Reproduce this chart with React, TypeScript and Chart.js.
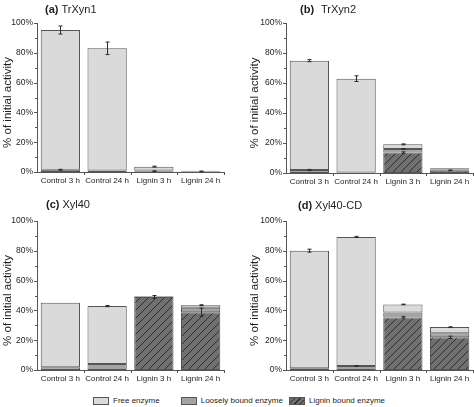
import React, { useEffect, useRef } from 'react';
import { Chart, registerables } from 'chart.js';

Chart.register(...registerables);

const categories = ['Control 3 h', 'Control 24 h', 'Lignin 3 h', 'Lignin 24 h'];
const yTickValues = [0, 20, 40, 60, 80, 100];
const legendLabels = ['Free enzyme', 'Loosely bound enzyme', 'Lignin bound enzyme'];

// (a) TrXyn1
const trxyn1Lignin = [0, 0, 0.5, 0.4];
const trxyn1Loose = [1.5, 1.0, 0.5, 0.4];
const trxyn1Free = [93.8, 82.0, 2.6, 0];
const trxyn1LigninErr = [0, 0, 0.3, 0.2];
const trxyn1LooseErr = [0.3, 0, 0, 0];
const trxyn1FreeErr = [2.7, 4.2, 0.3, 0];

// (b) TrXyn2
const trxyn2Lignin = [0, 0, 13.6, 1.8];
const trxyn2Loose = [2.0, 0.3, 2.4, 0.6];
const trxyn2Free = [72.9, 62.6, 3.1, 0.7];
const trxyn2LigninErr = [0, 0, 0.5, 0.2];
const trxyn2LooseErr = [0.4, 0, 0.3, 0];
const trxyn2FreeErr = [0.7, 1.9, 0.3, 0];

// (c) Xyl40
const xyl40Lignin = [0, 0, 49.0, 38.8];
const xyl40Loose = [1.8, 4.0, 0.3, 3.0];
const xyl40Free = [43.3, 38.9, 0.3, 1.7];
const xyl40LigninErr = [0, 0, 1.0, 2.7];
const xyl40LooseErr = [0, 0, 0, 0];
const xyl40FreeErr = [0, 0.4, 0, 0.3];

// (d) Xyl40-CD
const xyl40cdLignin = [0, 0, 35.3, 21.9];
const xyl40cdLoose = [1.1, 2.7, 3.3, 2.7];
const xyl40cdFree = [79.0, 86.6, 5.4, 4.2];
const xyl40cdLigninErr = [0, 0, 0.5, 0.8];
const xyl40cdLooseErr = [0, 0.2, 0, 0];
const xyl40cdFreeErr = [1.0, 0.4, 0.2, 0.2];

const FONT = '"Liberation Sans", Arial, sans-serif';
const FREE_COLOR = '#dadada';
const LOOSE_COLOR = '#a3a3a3';
const LIGNIN_BASE = '#707070';
const HATCH_COLOR = '#2e2e2e';
const EDGE = '#555555';
const TEXT = '#1e1e1e';

type PanelCfg = {
  letter: string;
  name: string;
  lignin: number[];
  loose: number[];
  free: number[];
  ligninErr: number[];
  looseErr: number[];
  freeErr: number[];
  x: number; y: number; w: number; h: number;
  area: { l: number; t: number; r: number; b: number };
  yTitleX: number;
  titleLeft: number; titleTop: number; titleGap: number;
};

const panels: PanelCfg[] = [
  {
    letter: '(a)', name: 'TrXyn1',
    lignin: trxyn1Lignin, loose: trxyn1Loose, free: trxyn1Free,
    ligninErr: trxyn1LigninErr, looseErr: trxyn1LooseErr, freeErr: trxyn1FreeErr,
    x: 0, y: 0, w: 237, h: 190,
    area: { l: 37, t: 23, r: 224, b: 172 },
    yTitleX: 8, titleLeft: 45, titleTop: 3, titleGap: 3,
  },
  {
    letter: '(b)', name: 'TrXyn2',
    lignin: trxyn2Lignin, loose: trxyn2Loose, free: trxyn2Free,
    ligninErr: trxyn2LigninErr, looseErr: trxyn2LooseErr, freeErr: trxyn2FreeErr,
    x: 237, y: 0, w: 237, h: 190,
    area: { l: 286, t: 23, r: 473, b: 173 },
    yTitleX: 255, titleLeft: 300, titleTop: 3, titleGap: 7,
  },
  {
    letter: '(c)', name: 'Xyl40',
    lignin: xyl40Lignin, loose: xyl40Loose, free: xyl40Free,
    ligninErr: xyl40LigninErr, looseErr: xyl40LooseErr, freeErr: xyl40FreeErr,
    x: 0, y: 190, w: 237, h: 195,
    area: { l: 37, t: 221, r: 224, b: 370 },
    yTitleX: 8, titleLeft: 46, titleTop: 198, titleGap: 3,
  },
  {
    letter: '(d)', name: 'Xyl40-CD',
    lignin: xyl40cdLignin, loose: xyl40cdLoose, free: xyl40cdFree,
    ligninErr: xyl40cdLigninErr, looseErr: xyl40cdLooseErr, freeErr: xyl40cdFreeErr,
    x: 237, y: 190, w: 237, h: 195,
    area: { l: 286, t: 221, r: 473, b: 370 },
    yTitleX: 255, titleLeft: 298, titleTop: 199, titleGap: 3,
  },
];

function makeHatch(): CanvasPattern | string {
  const c = document.createElement('canvas');
  c.width = 8; c.height = 8;
  const g = c.getContext('2d');
  if (!g) return LIGNIN_BASE;
  g.fillStyle = LIGNIN_BASE;
  g.fillRect(0, 0, 8, 8);
  g.strokeStyle = HATCH_COLOR;
  g.lineWidth = 1;
  g.beginPath();
  g.moveTo(-1, 9); g.lineTo(9, -1);
  g.moveTo(-1, 1); g.lineTo(1, -1);
  g.moveTo(7, 9); g.lineTo(9, 7);
  g.stroke();
  const p = g.createPattern(c, 'repeat');
  return p || LIGNIN_BASE;
}

const decorPlugin = {
  id: 'decor',
  afterDatasetsDraw(chart: any, _args: any, opts: any) {
    const ctx = chart.ctx as CanvasRenderingContext2D;
    const ys = chart.scales.y;
    const area = chart.chartArea;
    ctx.save();
    // error bars
    ctx.strokeStyle = '#2a2a2a';
    ctx.lineWidth = 1;
    const errs: number[][] = opts.errs || [];
    const n = chart.data.labels.length;
    for (let j = 0; j < n; j++) {
      let cum = 0;
      chart.data.datasets.forEach((ds: any, i: number) => {
        const v = ds.data[j] || 0;
        cum += v;
        const e = errs[i] ? errs[i][j] : 0;
        const el = chart.getDatasetMeta(i).data[j];
        if (!e || !el) return;
        const px = Math.round(el.x) + 0.5;
        const yU = ys.getPixelForValue(cum + e);
        const yD = ys.getPixelForValue(Math.max(0, cum - e));
        ctx.beginPath();
        ctx.moveTo(px, yU); ctx.lineTo(px, yD);
        ctx.moveTo(px - 2, yU); ctx.lineTo(px + 2, yU);
        ctx.moveTo(px - 2, yD); ctx.lineTo(px + 2, yD);
        ctx.stroke();
      });
    }
    ctx.restore();
  },
  afterDraw(chart: any, _args: any, opts: any) {
    const ctx = chart.ctx as CanvasRenderingContext2D;
    const ys = chart.scales.y;
    const area = chart.chartArea;
    ctx.save();
    ctx.strokeStyle = EDGE;
    ctx.lineWidth = 1;
    // y ticks (major and minor)
    for (let v = 0; v <= 100; v += 10) {
      const py = Math.round(ys.getPixelForValue(v)) + 0.5;
      const len = v % 20 === 0 ? 3 : 2;
      ctx.beginPath();
      ctx.moveTo(area.left - len, py);
      ctx.lineTo(area.left, py);
      ctx.stroke();
    }
    // x ticks at category boundaries
    const n = chart.data.labels.length;
    const step = (area.right - area.left) / n;
    for (let i = 1; i <= n; i++) {
      const px = Math.round(area.left + i * step) + 0.5;
      ctx.beginPath();
      ctx.moveTo(px, area.bottom);
      ctx.lineTo(px, area.bottom + 3);
      ctx.stroke();
    }
    // y-axis title
    ctx.fillStyle = TEXT;
    ctx.font = `11.5px ${FONT}`;
    ctx.textAlign = 'center';
    ctx.textBaseline = 'middle';
    ctx.translate(opts.titleX, (area.top + area.bottom) / 2 + 5);
    ctx.rotate(-Math.PI / 2);
    ctx.fillText(opts.title, 0, 0);
    ctx.restore();
  },
};

function nz(arr: number[]) {
  return arr.map((v) => (v > 0 ? v : null));
}

function Panel({ cfg }: { cfg: PanelCfg }) {
  const ref = useRef<HTMLCanvasElement>(null);
  useEffect(() => {
    if (!ref.current) return;
    const hatch = makeHatch();
    const a = cfg.area;
    const left = a.l - cfg.x;
    const top = a.t - cfg.y;
    const right = cfg.w - (a.r - cfg.x);
    const bottomH = cfg.h - (a.b - cfg.y);
    const common = { borderColor: EDGE, borderWidth: 1, borderSkipped: false, barPercentage: 0.84, categoryPercentage: 1.0 };
    const chart = new Chart(ref.current, {
      type: 'bar',
      data: {
        labels: categories,
        datasets: [
          { label: legendLabels[2], data: nz(cfg.lignin), backgroundColor: hatch, ...common },
          { label: legendLabels[1], data: nz(cfg.loose), backgroundColor: LOOSE_COLOR, ...common },
          { label: legendLabels[0], data: nz(cfg.free), backgroundColor: FREE_COLOR, ...common },
        ] as any,
      },
      options: {
        responsive: false,
        animation: false,
        devicePixelRatio: 1,
        layout: { padding: { left: 0, top, right, bottom: 0 } },
        plugins: {
          legend: { display: false },
          tooltip: { enabled: false },
          title: { display: false },
          decor: {
            errs: [cfg.ligninErr, cfg.looseErr, cfg.freeErr],
            titleX: cfg.yTitleX - cfg.x,
            title: '% of initial activity',
          },
        } as any,
        scales: {
          x: {
            stacked: true,
            offset: true,
            grid: { display: false, drawTicks: false },
            border: { display: true, color: EDGE, width: 1 },
            ticks: { color: TEXT, font: { family: FONT, size: 8 }, padding: 4, maxRotation: 0, autoSkip: false },
            afterFit: (s: any) => { s.height = bottomH; },
          },
          y: {
            stacked: true,
            min: 0,
            max: 100,
            grid: { display: false, drawTicks: false },
            border: { display: true, color: EDGE, width: 1 },
            ticks: {
              stepSize: 20,
              color: TEXT,
              font: { family: FONT, size: 8.5 },
              padding: 4,
              callback: (v: any) => (yTickValues.includes(Number(v)) ? `${v}%` : ''),
            },
            afterFit: (s: any) => { s.width = left; },
          },
        },
      },
      plugins: [decorPlugin],
    });
    return () => chart.destroy();
  }, [cfg]);
  return (
    <canvas
      ref={ref}
      width={cfg.w}
      height={cfg.h}
      style={{ position: 'absolute', left: cfg.x, top: cfg.y, width: cfg.w, height: cfg.h }}
    />
  );
}

const swatchBase: React.CSSProperties = {
  display: 'inline-block', width: 16, height: 8, border: `1px solid ${EDGE}`, boxSizing: 'border-box', verticalAlign: 'middle',
};

export default function App() {
  return (
    <div style={{ position: 'absolute', left: 0, top: 0, width: 474, height: 407, background: '#fff', overflow: 'hidden', fontFamily: FONT, color: TEXT }}>
      {panels.map((p) => (
        <Panel key={p.letter} cfg={p} />
      ))}
      {panels.map((p) => (
        <div key={p.letter + 't'} style={{ position: 'absolute', left: p.titleLeft, top: p.titleTop, fontSize: 11, lineHeight: '13px', whiteSpace: 'nowrap' }}>
          <b>{p.letter}</b>
          <span style={{ marginLeft: p.titleGap }}>{p.name}</span>
        </div>
      ))}
      <div style={{ position: 'absolute', left: 93, top: 396, height: 10, fontSize: 8, lineHeight: '10px', whiteSpace: 'nowrap' }}>
        <span style={{ ...swatchBase, background: FREE_COLOR }} />
        <span style={{ marginLeft: 4, verticalAlign: 'middle' }}>{legendLabels[0]}</span>
        <span style={{ ...swatchBase, background: LOOSE_COLOR, marginLeft: 21 }} />
        <span style={{ marginLeft: 4, verticalAlign: 'middle' }}>{legendLabels[1]}</span>
        <span style={{ ...swatchBase, marginLeft: 6, background: `repeating-linear-gradient(135deg, ${LIGNIN_BASE} 0px, ${LIGNIN_BASE} 3px, ${HATCH_COLOR} 3px, ${HATCH_COLOR} 4px)` }} />
        <span style={{ marginLeft: 4, verticalAlign: 'middle' }}>{legendLabels[2]}</span>
      </div>
    </div>
  );
}
